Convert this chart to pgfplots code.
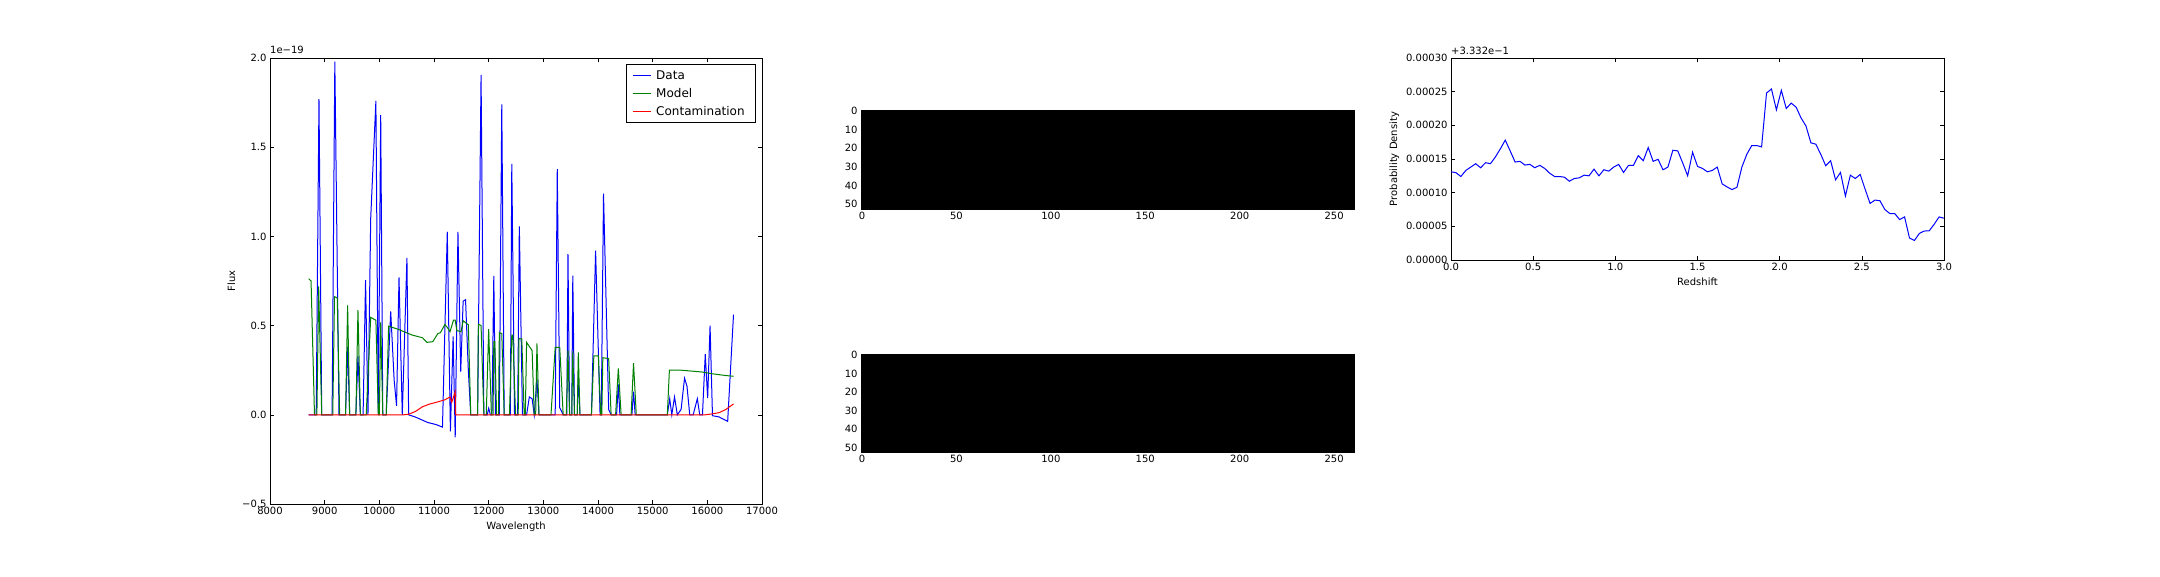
\documentclass[border=0pt]{standalone}
\usepackage{fontspec}
\setmainfont{DejaVu Sans}
\usepackage{pgfplots}
\pgfplotsset{compat=1.18}
\definecolor{mplb}{RGB}{0,0,255}
\definecolor{mplg}{RGB}{0,128,0}
\definecolor{mplr}{RGB}{255,0,0}
\pgfplotsset{mpl/.style={scale only axis, axis line style={line width=0.8pt},
  every tick/.style={black, line width=0.6pt}, major tick length=4pt, tick align=inside,
  tick label style={font=\fontsize{10}{12}\selectfont},
  label style={font=\fontsize{10}{12}\selectfont},
  scaled x ticks=false, scaled y ticks=false, clip mode=individual,
  /pgf/number format/assume math mode=true, anchor=south west}}
\begin{document}
\begin{tikzpicture}
\path[use as bounding box] (0pt,0pt) rectangle (2160pt,576pt);

% ---------------- left: spectrum ----------------
\begin{axis}[mpl, at={(270pt,72pt)}, width=492pt, height=446pt,
  xmin=8000, xmax=17000, ymin=-0.5, ymax=2.0,
  xtick={8000,9000,10000,11000,12000,13000,14000,15000,16000,17000},
  xticklabels={8000,9000,10000,11000,12000,13000,14000,15000,16000,17000},
  ytick={-0.5,0,0.5,1,1.5,2},
  yticklabels={−0.5,0.0,0.5,1.0,1.5,2.0},
  xlabel={Wavelength}, ylabel={Flux},
  legend style={at={(1,1)}, anchor=north east, xshift=-6pt, yshift=-6pt,
    font=\fontsize{12}{14}\selectfont, draw=black, line width=0.8pt,
    inner xsep=6pt, inner ysep=4pt, row sep=3.5pt,
    nodes={inner xsep=5pt}},
  legend cell align=left,
  legend image code/.code={\draw[#1] (0pt,0pt) -- (18pt,0pt);}]
\addplot[mplb, line width=1pt] coordinates {
(8707,0) (8845,0) (8896,1.77) (8946,0) (9136,0) (9186,1.98) (9262,0) (9382,0)
(9420,0.38) (9457,0) (9571,0) (9609,0.33) (9653,0) (9703,0) (9748,0.755) (9792,0)
(9842,1.1) (9937,1.76) (9981,0) (10025,1.68) (10063,0) (10126,0) (10208,0.58)
(10271,0.195) (10315,0.05) (10360,0.77) (10420,0.0) (10505,0.88) (10536,0.0)
(10662,-0.013) (10789,-0.03) (10883,-0.043) (11041,-0.055) (11155,-0.069)
(11243,1.026) (11300,-0.093) (11350,0.44) (11388,-0.127) (11438,1.026)
(11489,0.242) (11533,0.637) (11577,0.645) (11628,0.25) (11672,0) (11798,0)
(11861,1.906) (11912,0) (11975,0) (12000,0.037) (12031,0) (12060,0) (12094,0.778)
(12125,0) (12195,0) (12240,1.74) (12284,0) (12397,0) (12423,1.406) (12473,0)
(12530,0) (12561,1.056) (12618,0) (12694,0) (12744,0.1) (12795,0.09) (12833,0)
(12883,0.2) (12921,0) (13217,0) (13255,1.377) (13300,0.04) (13363,0) (13430,0)
(13451,0.9) (13480,0) (13520,0) (13539,0.78) (13570,0) (13620,0) (13640,0.22)
(13670,0) (13880,0) (13956,0.92) (14038,0) (14060,0) (14101,1.24) (14195,0.03)
(14240,0) (14340,0) (14372,0.17) (14400,0) (14620,0) (14650,0.13) (14680,0)
(15268,0) (15312,0.09) (15350,0) (15400,0.1) (15451,0) (15520,0.03) (15583,0.205)
(15628,0.16) (15678,0) (15741,0) (15817,0.09) (15861,0) (15911,0) (15962,0.34)
(16006,0.093) (16050,0.5) (16094,-0.005) (16214,-0.012) (16372,-0.037) (16479,0.562)
};
\addlegendentry{Data}
\addplot[mplg, line width=1pt] coordinates {
(8707,0.763) (8751,0.75) (8814,0) (8858,0) (8890,0.72) (8946,0) (9148,0)
(9180,0.662) (9230,0.655) (9274,0) (9382,0) (9420,0.613) (9457,0) (9571,0)
(9609,0.587) (9653,0) (9760,0) (9842,0.546) (9937,0.53) (9981,0) (10000,0)
(10025,0.518) (10063,0) (10126,0) (10170,0.497) (10347,0.479) (10599,0.447)
(10789,0.432) (10871,0.406) (10978,0.41) (11072,0.456) (11117,0.46) (11199,0.506)
(11243,0.49) (11293,0.466) (11356,0.53) (11388,0.53) (11419,0.47) (11451,0.47)
(11495,0.465) (11533,0.527) (11596,0.512) (11628,0.505) (11672,0) (11798,0)
(11811,0.508) (11861,0.5) (11912,0) (11956,0) (12000,0.48) (12050,0) (12080,0)
(12094,0.41) (12113,0.41) (12145,0) (12180,0) (12195,0.46) (12240,0.455) (12284,0)
(12380,0) (12423,0.447) (12442,0.447) (12492,0) (12540,0) (12555,0.428)
(12606,0.425) (12650,0) (12670,0) (12694,0.406) (12795,0.36) (12833,0) (12860,0)
(12883,0.4) (12921,0) (13140,0) (13217,0.378) (13300,0.378) (13363,0) (13420,0)
(13451,0.36) (13480,0) (13520,0) (13539,0.355) (13570,0) (13620,0) (13640,0.35)
(13670,0) (13880,0) (13924,0.33) (14006,0.33) (14050,0) (14070,0) (14088,0.32)
(14195,0.315) (14240,0) (14322,0) (14372,0.26) (14423,0) (14606,0) (14650,0.29)
(14700,0) (15268,0) (15306,0.25) (15520,0.25) (15710,0.245) (15899,0.24)
(16088,0.23) (16340,0.22) (16479,0.216)
};
\addlegendentry{Model}
\addplot[mplr, line width=1pt] coordinates {
(8707,0) (10442,0) (10536,0.003) (10662,0.019) (10789,0.045) (10915,0.06)
(11041,0.07) (11199,0.084) (11293,0.1) (11325,0.07) (11388,0.13) (11394,0)
(15962,0) (16088,0.005) (16214,0.012) (16340,0.03) (16479,0.061)
};
\addlegendentry{Contamination}
\node[anchor=base west, inner sep=0pt, font=\fontsize{10}{12}\selectfont]
  at (rel axis cs:0,1) [yshift=4pt] {1e−19};
\end{axis}

% ---------------- middle top: image ----------------
\begin{axis}[mpl, at={(861pt,367pt)}, width=493pt, height=99pt,
  xmin=-0.5, xmax=260.5, ymin=-0.5, ymax=52.5, y dir=reverse,
  xtick={0,50,100,150,200,250}, xticklabels={0,50,100,150,200,250},
  ytick={0,10,20,30,40,50}, yticklabels={0,10,20,30,40,50},
  axis on top]
\addplot[fill=black, draw=none] coordinates {(-0.5,-0.5) (260.5,-0.5) (260.5,52.5) (-0.5,52.5)} -- cycle;
\end{axis}

% ---------------- middle bottom: image ----------------
\begin{axis}[mpl, at={(861pt,124pt)}, width=493pt, height=98pt,
  xmin=-0.5, xmax=260.5, ymin=-0.5, ymax=52.5, y dir=reverse,
  xtick={0,50,100,150,200,250}, xticklabels={0,50,100,150,200,250},
  ytick={0,10,20,30,40,50}, yticklabels={0,10,20,30,40,50},
  axis on top]
\addplot[fill=black, draw=none] coordinates {(-0.5,-0.5) (260.5,-0.5) (260.5,52.5) (-0.5,52.5)} -- cycle;
\end{axis}

% ---------------- right: redshift PDF (values in units of 1e-5, offset +0.3332) ----------------
\begin{axis}[mpl, at={(1451pt,316pt)}, width=493pt, height=202pt,
  xmin=0, xmax=3, ymin=0, ymax=30,
  xtick={0,0.5,1,1.5,2,2.5,3}, xticklabels={0.0,0.5,1.0,1.5,2.0,2.5,3.0},
  ytick={0,5,10,15,20,25,30},
  yticklabels={0.00000,0.00005,0.00010,0.00015,0.00020,0.00025,0.00030},
  xlabel={Redshift}, ylabel={Probability Density}]
\addplot[mplb, line width=1pt] coordinates {
(0.00,13.1) (0.03,12.97) (0.06,12.4) (0.09,13.3) (0.12,13.8) (0.15,14.3)
(0.18,13.7) (0.21,14.45) (0.24,14.3) (0.27,15.3) (0.30,16.5) (0.33,17.8)
(0.36,16.2) (0.39,14.55) (0.42,14.65) (0.45,14.1) (0.48,14.2) (0.51,13.7)
(0.54,14.06) (0.57,13.6) (0.60,12.9) (0.63,12.4) (0.66,12.4) (0.69,12.3)
(0.72,11.7) (0.75,12.1) (0.78,12.2) (0.81,12.6) (0.84,12.5) (0.87,13.5)
(0.90,12.5) (0.93,13.4) (0.96,13.2) (0.99,13.8) (1.02,14.2) (1.05,13.0)
(1.08,14.06) (1.11,14.06) (1.14,15.5) (1.17,14.75) (1.20,16.7) (1.23,14.65)
(1.26,14.95) (1.29,13.4) (1.32,13.8) (1.35,16.3) (1.38,16.2) (1.41,14.4)
(1.44,12.5) (1.47,16.0) (1.50,13.9) (1.53,13.6) (1.56,13.1) (1.59,13.3)
(1.62,13.8) (1.65,11.3) (1.68,10.85) (1.71,10.46) (1.74,10.8) (1.77,13.8)
(1.80,15.7) (1.83,17.0) (1.86,17.0) (1.89,16.8) (1.92,24.8) (1.95,25.4)
(1.98,22.3) (2.01,25.2) (2.04,22.5) (2.07,23.3) (2.10,22.7) (2.13,21.1)
(2.16,19.9) (2.19,17.4) (2.22,17.2) (2.25,15.7) (2.28,14.0) (2.31,14.75)
(2.34,11.9) (2.37,13.0) (2.40,9.5) (2.43,12.6) (2.46,12.1) (2.49,12.7)
(2.52,10.5) (2.55,8.4) (2.58,8.9) (2.61,8.8) (2.64,7.5) (2.67,6.9)
(2.70,6.9) (2.73,6.0) (2.76,6.4) (2.79,3.26) (2.82,2.9) (2.85,3.95)
(2.88,4.3) (2.91,4.34) (2.94,5.3) (2.97,6.4) (3.00,6.2)
};
\node[anchor=base west, inner sep=0pt, font=\fontsize{10}{12}\selectfont]
  at (rel axis cs:0,1) [yshift=3pt] {+3.332e−1};
\end{axis}
\end{tikzpicture}
\end{document}
